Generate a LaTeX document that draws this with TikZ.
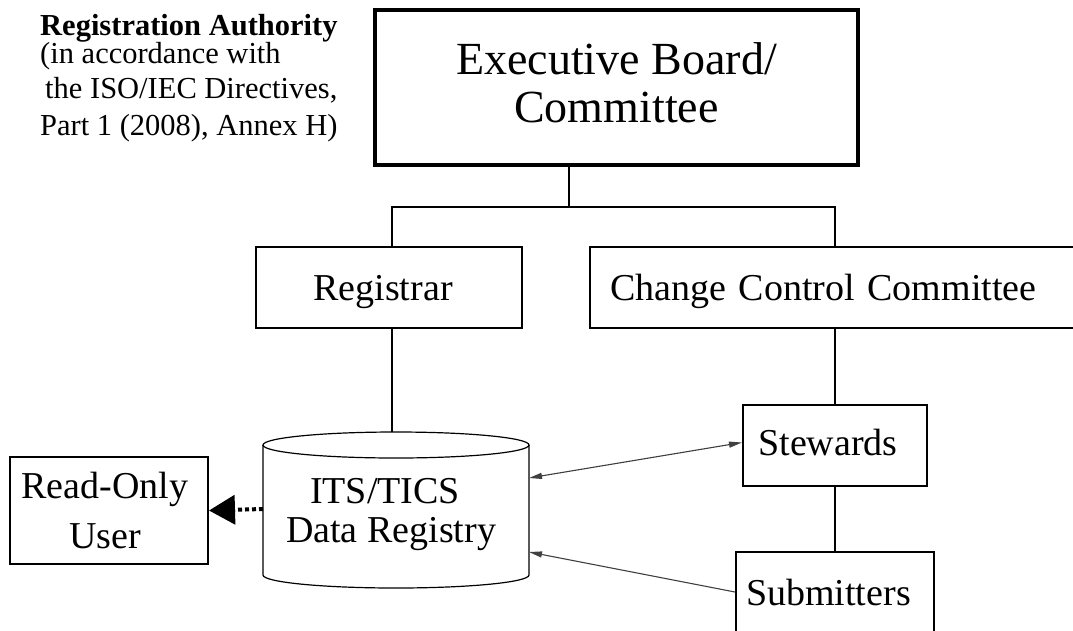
\documentclass[tikz,border=0pt]{standalone}
\usepackage{fontspec}
\setmainfont{Liberation Serif}
\usetikzlibrary{arrows.meta,calc}
\begin{document}
\begin{tikzpicture}[x=1pt,y=-1pt,
  rbox/.style={draw,line width=2pt,inner sep=0pt,font=\fontsize{38}{40}\selectfont},
  conn/.style={line width=1.5pt},
  cyl/.style={line width=1.2pt},
  garrow/.style={line width=1.1pt,draw=black!75,arrows={-{Triangle[length=13pt,width=6pt]}}},
  garrowb/.style={line width=1.1pt,draw=black!75,arrows={{Triangle[length=13pt,width=6pt]}-{Triangle[length=13pt,width=6pt]}}},
  dotarrow/.style={line width=4pt,dash pattern=on 4pt off 3pt,arrows={-{Triangle[length=26pt,width=29pt]}}},
  note/.style={anchor=base west,inner sep=0pt,font=\fontsize{30.5}{32}\selectfont}
]
\useasboundingbox (0,0) rectangle (1073,630);

% notes
\node[note,font=\fontsize{30.5}{32}\selectfont\bfseries] (ra1) at (40,35) {Registration Authority};
\node[note] (ra2) at (40,63) {(in accordance with};
\node[note] (ra3) at (45,98) {the ISO/IEC Directives,};
\node[note] (ra4) at (40,135) {Part 1 (2008), Annex H)};

% boxes
\node[rbox,line width=3.5pt,minimum width=483pt,minimum height=155pt,align=center,
      font=\fontsize{46}{48}\selectfont] (exec) at (616.5,87.5)
      {Executive Board/\\Committee\rule[-9pt]{0pt}{0pt}};
\node[rbox,minimum width=266pt,minimum height=81pt,text height=33pt,text depth=8pt]
      (reg) at (389,287.5) {Registrar\hspace*{12pt}};
\node[rbox,minimum width=495pt,minimum height=81pt,inner xsep=20pt,text width=455pt,
      align=left,text height=33pt,text depth=8pt] (ccc) at (837.5,287.5) {Change Control Committee};
\node[rbox,minimum width=184pt,minimum height=81pt,text height=27pt,text depth=8pt]
      (stew) at (835,445.5) {Stewards\hspace*{14pt}};
\node[rbox,minimum width=198pt,minimum height=106pt,text height=26pt,text depth=26pt]
      (sub) at (835,605) {Submitters\hspace*{13pt}};
\node[rbox,minimum width=198pt,minimum height=107pt,align=center,
      font=\fontsize{38}{50}\selectfont] (ro) at (109,510.5) {Read-Only\hspace*{8pt}\\User\hspace*{8pt}};

% data registry cylinder
\draw[cyl] (396,445) ellipse[x radius=133, y radius=13];
\draw[cyl] (263,445) -- (263,575) arc[start angle=180,end angle=0,x radius=133,y radius=13] -- (529,445);
\node[inner sep=0pt,align=center,font=\fontsize{38}{39}\selectfont] (db) at (391,514.5)
      {ITS/TICS\hspace*{12pt}\\Data Registry};

\coordinate (dbtop) at (392,432);
\coordinate (dbL) at (263,509);
\coordinate (dbR1) at (529,478);
\coordinate (dbR2) at (529,552);
\coordinate (j) at (569,207);

% connectors
\draw[conn] (exec.south -| j) -- (j);
\draw[conn] (reg.north -| dbtop) |- (j) -| (ccc.north -| stew.north);
\draw[conn] (reg.south -| dbtop) -- (dbtop);
\draw[conn] (ccc.south -| stew.north) -- (stew.north);
\draw[conn] (stew) -- (sub);
\draw[garrowb] (dbR1) -- ($(stew.west)+(0,-3)$);
\draw[garrow] ($(sub.west)+(0,-13)$) -- (dbR2);
\draw[dotarrow] (dbL) -- (ro.east);
\end{tikzpicture}
\end{document}
